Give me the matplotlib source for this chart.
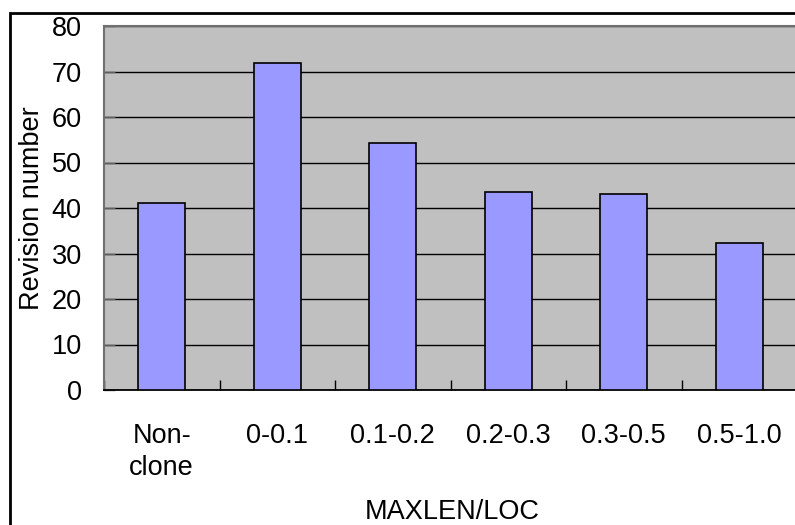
import numpy as np
import matplotlib
matplotlib.use('Agg')
import matplotlib.pyplot as plt
from matplotlib.patches import Rectangle

plt.rcParams['font.family'] = ['Liberation Sans', 'DejaVu Sans']

# Data
categories = ['Non-\nclone', '0-0.1', '0.1-0.2', '0.2-0.3', '0.3-0.5', '0.5-1.0']
revisions = [41.2, 71.8, 54.2, 43.5, 43.1, 32.3]
y_ticks = [0, 10, 20, 30, 40, 50, 60, 70, 80]

FS = 19.5

fig = plt.figure(figsize=(7.95, 5.25), dpi=100)
fig.patch.set_facecolor('white')
ax = fig.add_axes([104 / 795, 135 / 525, 693 / 795, 364 / 525])
ax.set_facecolor('#c0c0c0')

x = np.arange(len(categories))
ax.bar(x, revisions, width=0.41, color='#9999ff', edgecolor='black',
       linewidth=1.2, zorder=3)

ax.set_xlim(-0.5, len(categories) - 0.5)
ax.set_ylim(0, 80)
ax.set_yticks(y_ticks)
ax.set_yticklabels([str(v) for v in y_ticks], fontsize=FS)
ax.yaxis.grid(True, color='black', linewidth=1.0, zorder=1)
ax.set_axisbelow(True)

# category labels between boundary ticks
ax.set_xticks(x)
ax.set_xticklabels(categories, fontsize=FS, linespacing=1.3)
ax.tick_params(axis='x', length=0, pad=24)
ax.set_xticks(np.arange(len(categories) + 1) - 0.5, minor=True)
ax.tick_params(axis='x', which='minor', direction='in', length=7,
               color='black', width=1)
ax.tick_params(axis='y', direction='in', length=8, color='#606060',
               width=1, pad=16)

for side in ['top', 'left', 'right']:
    ax.spines[side].set_color('#707070')
    ax.spines[side].set_linewidth(1.5)
ax.spines['bottom'].set_color('black')
ax.spines['bottom'].set_linewidth(1.3)

ax.set_ylabel('Revision number', fontsize=FS)
ax.yaxis.set_label_coords(-0.085, 0.5)
fig.text(452 / 795, 1 - 512 / 525, 'MAXLEN/LOC', fontsize=FS,
         ha='center', va='center')

# outer chart frame (cut off at right and bottom)
fig.patches.append(Rectangle((10 / 795, -0.1), 1.2, 1 - 13 / 525 + 0.1,
                             transform=fig.transFigure, fill=False,
                             edgecolor='black', linewidth=2.0))

plt.savefig('out.png', dpi=100, facecolor='white')
